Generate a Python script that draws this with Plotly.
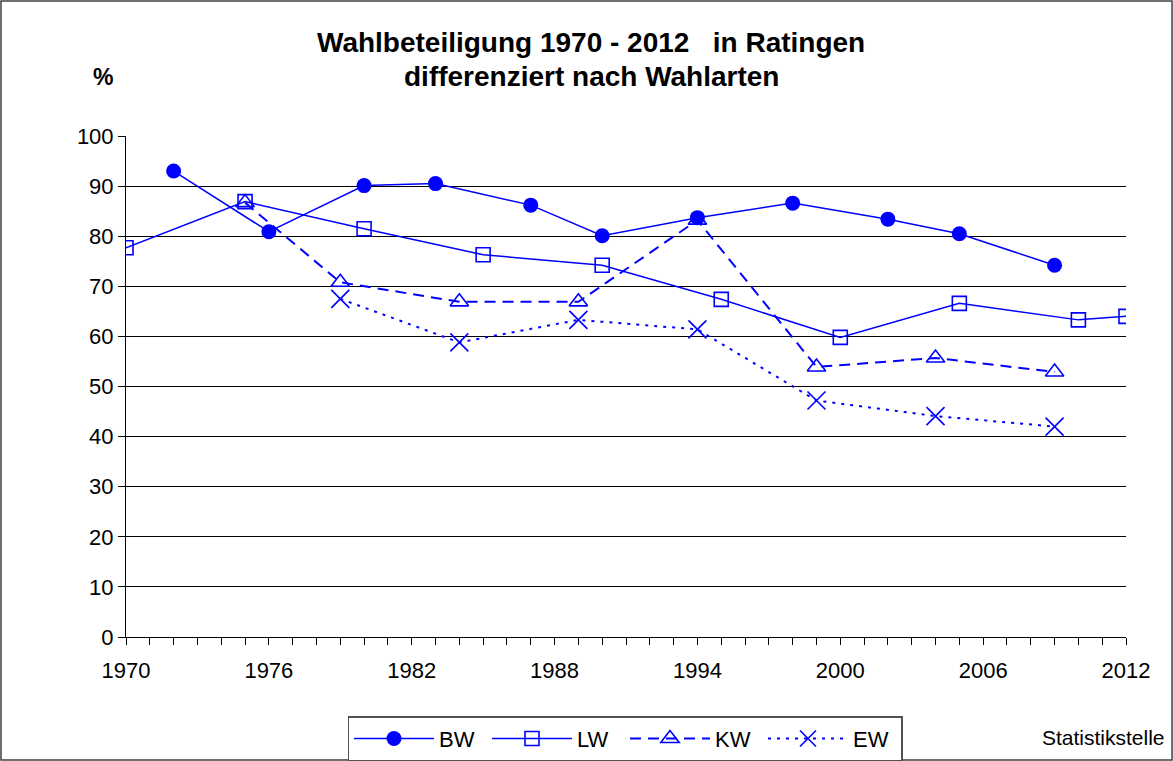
import plotly.graph_objects as go

# Data
bw_years = [1972, 1976, 1980, 1983, 1987, 1990, 1994, 1998, 2002, 2005, 2009]
bw_values = [93.0, 80.9, 90.1, 90.5, 86.2, 80.1, 83.7, 86.6, 83.4, 80.5, 74.2]

lw_years = [1970, 1975, 1980, 1985, 1990, 1995, 2000, 2005, 2010, 2012]
lw_values = [77.7, 86.9, 81.5, 76.3, 74.2, 67.4, 59.8, 66.6, 63.3, 64.0]

kw_years = [1975, 1979, 1984, 1989, 1994, 1999, 2004, 2009]
kw_values = [86.7, 70.8, 66.9, 66.9, 83.2, 53.9, 55.7, 52.9]

ew_years = [1979, 1984, 1989, 1994, 1999, 2004, 2009]
ew_values = [67.5, 58.8, 63.3, 61.4, 47.2, 44.1, 42.0]

x_ticks = [1970, 1976, 1982, 1988, 1994, 2000, 2006, 2012]
y_ticks = [0, 10, 20, 30, 40, 50, 60, 70, 80, 90, 100]

BLUE = "#0000FF"
FONT = "Liberation Sans, Arial, sans-serif"

fig = go.Figure()
fig.add_trace(go.Scatter(
    x=bw_years, y=bw_values, name="BW", mode="lines+markers",
    line=dict(color=BLUE, width=1.5),
    marker=dict(symbol="circle", size=15, color=BLUE),
))
fig.add_trace(go.Scatter(
    x=lw_years, y=lw_values, name="LW", mode="lines+markers",
    line=dict(color=BLUE, width=1.5),
    marker=dict(symbol="square-open", size=14, color=BLUE, line=dict(width=1.6, color=BLUE)),
))
fig.add_trace(go.Scatter(
    x=kw_years, y=kw_values, name="KW", mode="lines+markers",
    line=dict(color=BLUE, width=2, dash="11px,7px"),
    marker=dict(symbol="triangle-up-open", size=16, color=BLUE, line=dict(width=1.6, color=BLUE)),
))
fig.add_trace(go.Scatter(
    x=ew_years, y=ew_values, name="EW", mode="lines+markers",
    line=dict(color=BLUE, width=2, dash="3px,6px"),
    marker=dict(symbol="x-thin-open", size=18, color=BLUE, line=dict(width=1.6, color=BLUE)),
))

fig.update_layout(
    width=1173, height=761,
    margin=dict(l=126, r=47, t=136, b=124, autoexpand=False),
    paper_bgcolor="white", plot_bgcolor="white",
    font=dict(family=FONT, size=22, color="black"),
    showlegend=True,
    legend=dict(
        orientation="h", x=0.499, xanchor="center", y=-0.158, yanchor="top",
        bordercolor="#505050", borderwidth=1.5, bgcolor="white",
        font=dict(family=FONT, size=22, color="black"),
        entrywidth=43, entrywidthmode="pixels",
        itemwidth=80, tracegroupgap=0,
    ),
    xaxis=dict(
        range=[1970, 2012], tickvals=x_ticks, ticktext=[str(v) for v in x_ticks],
        showgrid=False, zeroline=False,
        showline=True, linecolor="black", linewidth=1,
        ticks="outside", ticklen=7, tickcolor="black",
        minor=dict(dtick=1, tick0=1970, ticks="outside", ticklen=7, tickcolor="black", showgrid=False),
        tickfont=dict(family=FONT, size=22),
        ticklabelstandoff=7,
        fixedrange=True,
    ),
    yaxis=dict(
        range=[0, 100], tickvals=y_ticks,
        showgrid=True, gridcolor="black", gridwidth=1,
        zeroline=False,
        showline=True, linecolor="black", linewidth=1,
        ticks="outside", ticklen=7, tickcolor="black",
        tickfont=dict(family=FONT, size=22),
        fixedrange=True,
    ),
    annotations=[
        dict(text="<b>Wahlbeteiligung 1970 - 2012\u00a0\u00a0\u00a0in Ratingen</b>",
             x=0.465, y=1.1876, xref="paper", yref="paper",
             xanchor="center", yanchor="middle", showarrow=False,
             font=dict(family=FONT, size=28, color="black")),
        dict(text="<b>differenziert nach Wahlarten</b>",
             x=0.465, y=1.1178, xref="paper", yref="paper",
             xanchor="center", yanchor="middle", showarrow=False,
             font=dict(family=FONT, size=28, color="black")),
        dict(text="<b>%</b>",
             x=-0.023, y=1.1178, xref="paper", yref="paper",
             xanchor="center", yanchor="middle", showarrow=False,
             font=dict(family=FONT, size=23, color="black")),
        dict(text="Statistikstelle",
             x=1.041, y=-0.2, xref="paper", yref="paper",
             xanchor="right", yanchor="middle", showarrow=False,
             font=dict(family=FONT, size=21, color="black")),
    ],
    shapes=[
        dict(type="rect", xref="paper", yref="paper",
             x0=-0.125, x1=1.046, y0=-0.2455, y1=1.2695,
             line=dict(color="#404040", width=1.5), fillcolor="rgba(0,0,0,0)", layer="below"),
    ],
)

fig.write_html(
    "out.html",
    config={"displayModeBar": False},
    post_script="document.body.style.margin='0';document.body.style.padding='0';document.body.style.overflow='hidden';",
)
